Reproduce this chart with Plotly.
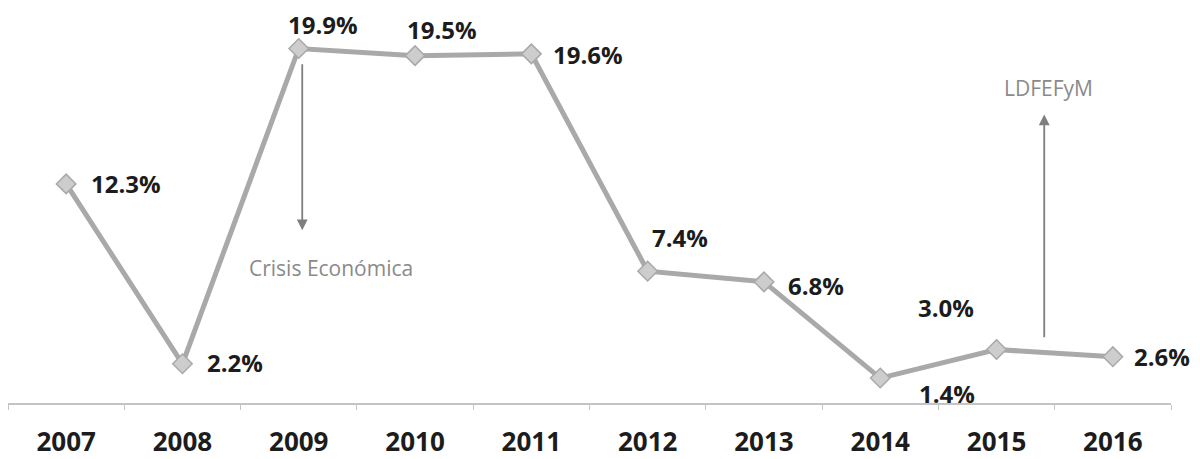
"""
plot.py
-------

Annual growth line chart with event annotations.
"""

import plotly.graph_objects as go


# ==========================================================
# Data
# ==========================================================

years = ["2007", "2008", "2009", "2010", "2011", "2012", "2013", "2014", "2015", "2016"]

growth = [12.3, 2.2, 19.9, 19.5, 19.6, 7.4, 6.8, 1.4, 3.0, 2.6]

events = ["Crisis Económica", "LDFEFyM"]


# ==========================================================
# Style
# ==========================================================

LINE_GRAY = "#a9a9a9"
TEXT_DARK = "#1c1c1c"
NOTE_GRAY = "#8a8a8a"
FONT = "Open Sans"

# label offsets (pixels) for each point: (xshift, yshift)
label_shift = [
    (60, 0), (53, 1), (24, 24), (27, 26), (57, -1),
    (32, 34), (52, -4), (67, -15), (-51, 42), (49, 0),
]


# ==========================================================
# Figure
# ==========================================================

fig = go.Figure()

fig.add_trace(
    go.Scatter(
        x=years,
        y=growth,
        mode="lines+markers",
        line=dict(color=LINE_GRAY, width=5),
        marker=dict(
            symbol="diamond",
            size=15,
            color="#cdcdcd",
            line=dict(color=LINE_GRAY, width=1.5),
        ),
        hoverinfo="skip",
    )
)

# category axes take the serial index for annotations
for i, value in enumerate(growth):
    dx, dy = label_shift[i]
    fig.add_annotation(
        x=i,
        y=value,
        text=f"{value:.1f}%",
        showarrow=False,
        xshift=dx,
        yshift=dy,
        font=dict(family=FONT, size=24, color=TEXT_DARK, weight="bold"),
    )

# Crisis arrow (pointing down from 2009)
fig.add_annotation(
    x=2.03, y=9.7, ax=2.03, ay=19.1,
    xref="x", yref="y", axref="x", ayref="y",
    showarrow=True, arrowhead=2, arrowsize=1.2, arrowwidth=1.8,
    arrowcolor="#7f7f7f", text="",
)
fig.add_annotation(
    x=2.28, y=7.6,
    text=events[0],
    showarrow=False,
    font=dict(family=FONT, size=21, color=NOTE_GRAY),
)

# LDFEFyM arrow (pointing up near 2015)
fig.add_annotation(
    x=8.41, y=16.2, ax=8.41, ay=3.6,
    xref="x", yref="y", axref="x", ayref="y",
    showarrow=True, arrowhead=2, arrowsize=1.2, arrowwidth=1.8,
    arrowcolor="#7f7f7f", text="",
)
fig.add_annotation(
    x=8.45, y=17.7,
    text=events[1],
    showarrow=False,
    font=dict(family=FONT, size=21, color=NOTE_GRAY),
)

# page body has an 8px default margin, so the figure is sized
# 8px smaller each way to fit inside the 1200x459 window
fig.update_layout(
    width=1192,
    height=451,
    paper_bgcolor="white",
    plot_bgcolor="white",
    showlegend=False,
    margin=dict(l=0, r=29, t=12, b=51),
    font=dict(family=FONT, color=TEXT_DARK),
    xaxis=dict(
        type="category",
        range=[-0.5, 9.5],
        showgrid=False,
        zeroline=False,
        showline=True,
        linecolor="#c4c4c4",
        linewidth=1.5,
        ticks="outside",
        tickson="boundaries",
        ticklen=5,
        tickcolor="#c4c4c4",
        ticklabelstandoff=15,
        tickfont=dict(family=FONT, size=26, color=TEXT_DARK, weight="bold"),
    ),
    yaxis=dict(
        range=[0, 21.5],
        visible=False,
        showgrid=False,
        zeroline=False,
    ),
)

fig.write_html("out.html")
